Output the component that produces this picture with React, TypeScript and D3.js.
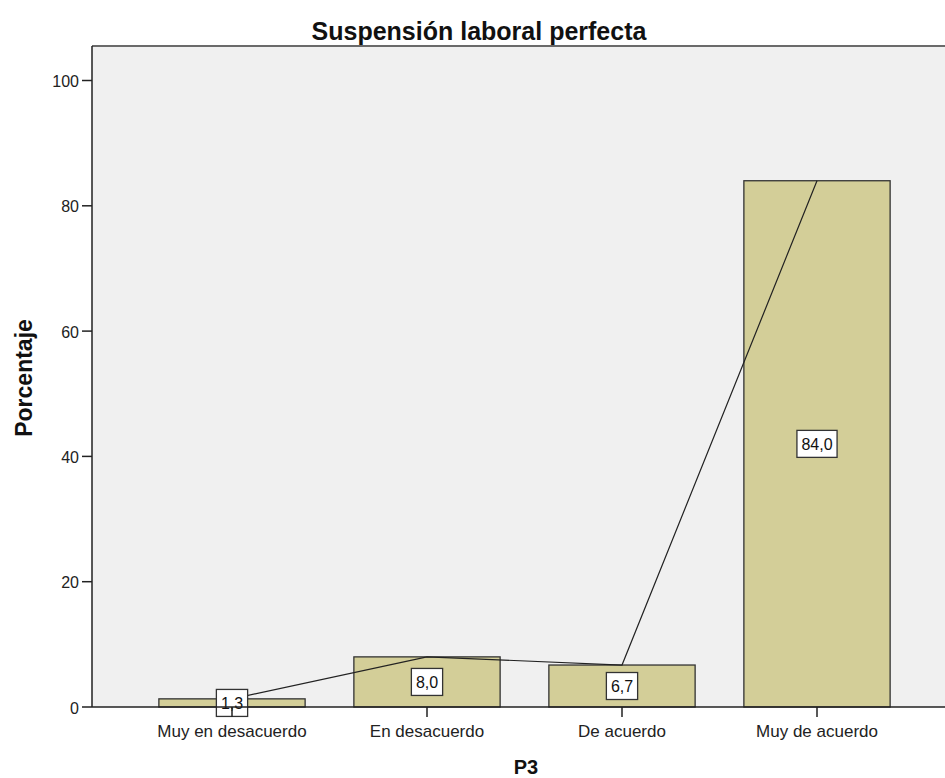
import React from "react";
import * as d3 from "d3";

const categories = ["Muy en desacuerdo", "En desacuerdo", "De acuerdo", "Muy de acuerdo"];
const values = [1.3, 8.0, 6.7, 84.0];
const valueLabels = ["1,3", "8,0", "6,7", "84,0"];
const yTicks = [0, 20, 40, 60, 80, 100];

export default function App() {
  const W = 945, H = 778;
  const plotLeft = 92, plotTop = 46, plotRight = 945, plotBottom = 707;
  const y = d3.scaleLinear().domain([0, 100]).range([plotBottom, 80.5]);
  const x = d3.scaleBand<string>().domain(categories).range([134.5, 914.5]).paddingInner(0.25).paddingOuter(0.125);
  const bw = x.bandwidth();
  const cx = (c: string) => (x(c) as number) + bw / 2;
  const line = d3.line<number>().x((_, i) => cx(categories[i])).y((v) => y(v));
  const font = "'Liberation Sans', Arial, sans-serif";
  const labelFs = 16;
  const textW = (s: string) => s.split("").reduce((a, ch) => a + (ch === "," ? 0.278 : 0.556), 0) * labelFs;
  return (
    <svg width={W} height={H} style={{ position: "absolute", left: 0, top: 0 }} fontFamily={font}>
      <rect x={0} y={0} width={W} height={H} fill="#ffffff" />
      <rect x={plotLeft} y={plotTop} width={plotRight - plotLeft} height={plotBottom - plotTop} fill="#f0f0f0" />
      <line x1={plotLeft} x2={plotRight} y1={plotTop} y2={plotTop} stroke="#6a6a6a" strokeWidth={2} />
      {categories.map((c, i) => (
        <rect key={c} x={x(c)} y={y(values[i])} width={bw} height={plotBottom - y(values[i])}
          fill="#d3ce98" stroke="#333333" strokeWidth={1.3} />
      ))}
      <path d={line(values) || ""} fill="none" stroke="#222222" strokeWidth={1.2} />
      {categories.map((c, i) => {
        const t = valueLabels[i];
        const w = textW(t) + 9;
        const cy = y(values[i] / 2);
        return (
          <g key={"l" + c}>
            <rect x={cx(c) - w / 2} y={cy - 13.5} width={w} height={27} fill="#ffffff" stroke="#333333" strokeWidth={1.3} />
            <text x={cx(c)} y={cy + 6} textAnchor="middle" fontSize={labelFs} fill="#111">{t}</text>
          </g>
        );
      })}
      <line x1={plotLeft} x2={plotLeft} y1={plotTop} y2={plotBottom} stroke="#222" strokeWidth={1.5} />
      <line x1={plotLeft} x2={plotRight} y1={plotBottom} y2={plotBottom} stroke="#222" strokeWidth={1.5} />
      {yTicks.map((t) => (
        <g key={t}>
          <line x1={plotLeft - 10} x2={plotLeft} y1={y(t)} y2={y(t)} stroke="#222" strokeWidth={1.5} />
          <text x={plotLeft - 13} y={y(t) + 6.5} textAnchor="end" fontSize={16} fill="#222">{t}</text>
        </g>
      ))}
      {categories.map((c) => (
        <g key={"t" + c}>
          <line x1={cx(c)} x2={cx(c)} y1={plotBottom} y2={plotBottom + 10} stroke="#222" strokeWidth={1.5} />
          <text x={cx(c)} y={plotBottom + 30} textAnchor="middle" fontSize={17} fill="#222">{c}</text>
        </g>
      ))}
      <text x={479} y={40} textAnchor="middle" fontSize={25} fontWeight="bold" fill="#111">Suspensión laboral perfecta</text>
      <text x={526} y={774} textAnchor="middle" fontSize={20} fontWeight="bold" fill="#111">P3</text>
      <text transform={`translate(32,378) rotate(-90)`} textAnchor="middle" fontSize={23} fontWeight="bold" fill="#111">Porcentaje</text>
    </svg>
  );
}
